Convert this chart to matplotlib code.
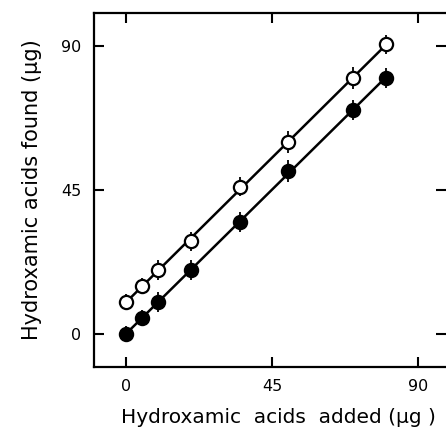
import numpy as np
import matplotlib.pyplot as plt

# amounts added (ug)
added = [0, 5, 10, 20, 35, 50, 70, 80]
# found, without and with background (closed / open symbols)
found_closed = [0, 5, 10, 20, 35, 51, 70, 80]
found_open = [10, 15, 20, 29, 46, 60, 80, 90.5]
err_closed = [2.5, 2.5, 3, 3, 3, 3.5, 3, 3]
err_open = [2.5, 2.5, 3, 3, 3, 3.5, 3.5, 3]

xticks = [0, 45, 90]
yticks = [0, 45, 90]


def plot_recovery():
    fig = plt.figure(figsize=(4.46, 4.36), dpi=100)
    ax = fig.add_axes([0.2108, 0.1583, 0.7892, 0.8117])

    x = np.array(added)
    for ys, err, face in [(found_open, err_open, 'white'),
                          (found_closed, err_closed, 'black')]:
        k, b = np.polyfit(x, ys, 1)
        ax.plot([x[0], x[-1]], [k * x[0] + b, k * x[-1] + b],
                color='black', lw=1.8, zorder=2)
        ax.errorbar(x, ys, yerr=err, fmt='o', ms=9.5, mfc=face, mec='black',
                    mew=1.6, ecolor='black', elinewidth=1.3, capsize=0,
                    zorder=3)

    ax.set_xlim(-9.8, 98.5)
    ax.set_ylim(-10.3, 100.3)
    ax.set_xticks(xticks)
    ax.set_yticks(yticks)
    ax.tick_params(direction='in', length=7, width=1.5, labelsize=11.5,
                   top=True, right=True, pad=9)
    ax.spines['right'].set_visible(False)
    for s in ['left', 'top', 'bottom']:
        ax.spines[s].set_linewidth(1.6)

    ax.set_xlabel('Hydroxamic  acids  added (\u03bcg )', fontsize=14.5,
                  labelpad=10, x=0.525)
    ax.set_ylabel('Hydroxamic acids found (\u03bcg)', fontsize=15, labelpad=14)

    fig.savefig('out.png', dpi=100)


if __name__ == '__main__':
    plot_recovery()
